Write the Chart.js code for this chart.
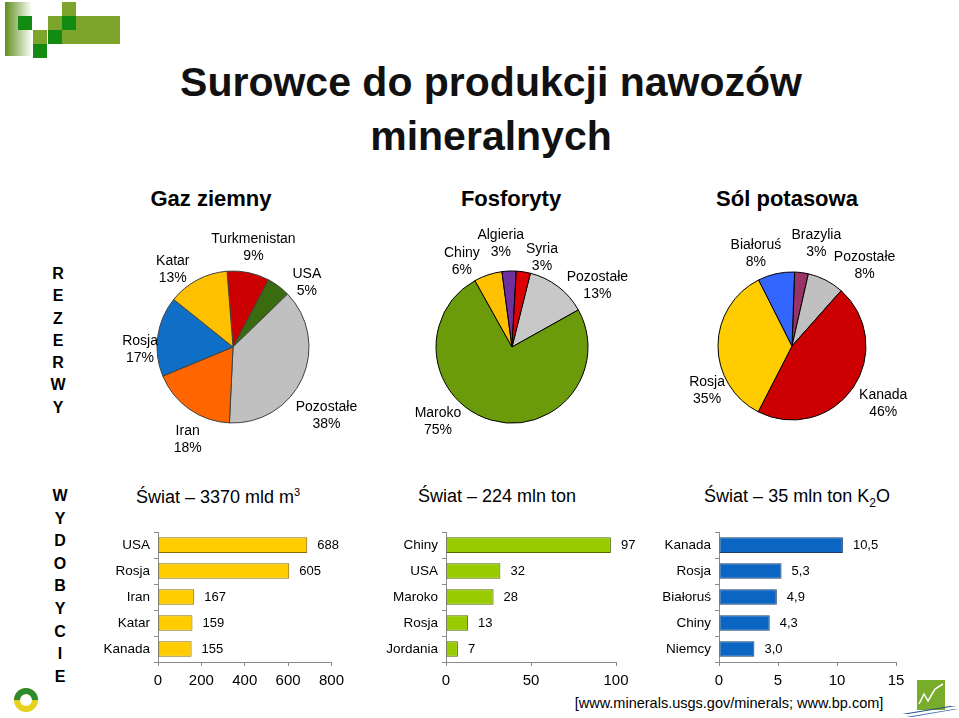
<!DOCTYPE html>
<html>
<head>
<meta charset="utf-8">
<script src="https://cdn.jsdelivr.net/npm/chart.js@4.4.0/dist/chart.umd.min.js"></script>
<style>
    body { margin: 0; background: #fff; }
    #page { position: relative; width: 959px; height: 718px; overflow: hidden; background: #fff;
            font-family: "Liberation Sans", Arial, sans-serif; color: #000; }
    .t { position: absolute; white-space: nowrap; transform: translate(-50%, -50%); line-height: 1; }
    .title { font-size: 41px; font-weight: bold; color: #111; }
    .head { font-size: 22px; font-weight: bold; }
    .sub { font-size: 18px; }
    .side { position: absolute; width: 30px; text-align: center; font-size: 16px; font-weight: bold; }
    canvas { position: absolute; }
    .sq { position: absolute; width: 14px; height: 14px; }
    .ol { background: #7da42b; }
    .dg { background: #138b13; }
</style>
</head>
<body>
<div id="page">

    <!-- decoration top-left -->
    <div style="position:absolute;left:5px;top:2px;width:27px;height:54px;background:linear-gradient(to right,#5e8f1e,#ffffff);"></div>
    <div class="sq ol" style="left:62px;top:2px;"></div>
    <div class="sq dg" style="left:18px;top:16px;"></div>
    <div class="sq ol" style="left:48px;top:16px;"></div>
    <div class="sq dg" style="left:62px;top:16px;"></div>
    <div class="sq ol" style="left:76px;top:16px;width:44px;"></div>
    <div class="sq ol" style="left:33px;top:30px;"></div>
    <div class="sq dg" style="left:48px;top:30px;"></div>
    <div class="sq ol" style="left:62px;top:30px;width:58px;"></div>
    <div class="sq dg" style="left:33px;top:44px;"></div>

    <div class="t title" style="left:491px;top:82px;">Surowce do produkcji nawozów</div>
    <div class="t title" style="left:491px;top:136px;">mineralnych</div>

    <div class="t head" style="left:211px;top:199px;">Gaz ziemny</div>
    <div class="t head" style="left:511px;top:199px;">Fosforyty</div>
    <div class="t head" style="left:787px;top:199px;">Sól potasowa</div>

    <div class="side" style="left:43px;top:263px;line-height:22.3px;">R<br>E<br>Z<br>E<br>R<br>W<br>Y</div>
    <div class="side" style="left:45px;top:485px;line-height:22.6px;">W<br>Y<br>D<br>O<br>B<br>Y<br>C<br>I<br>E</div>

    <div class="t sub" style="left:218px;top:496px;">Świat – 3370 mld m<sup style="font-size:11px;">3</sup></div>
    <div class="t sub" style="left:497px;top:496px;">Świat – 224 mln ton</div>
    <div class="t sub" style="left:797px;top:498px;">Świat – 35 mln ton K<sub style="font-size:12px;">2</sub>O</div>

    <div class="t" style="left:729px;top:703px;font-size:14.5px;">[www.minerals.usgs.gov/minerals; www.bp.com]</div>

    <canvas id="gasPie" width="300" height="260" style="left:83px;top:217px;"></canvas>
    <canvas id="phosPie" width="300" height="260" style="left:362px;top:217px;"></canvas>
    <canvas id="potPie" width="300" height="260" style="left:642px;top:216px;"></canvas>

    <canvas id="gasBar" width="252" height="170" style="left:98px;top:520px;"></canvas>
    <canvas id="phosBar" width="264" height="170" style="left:376px;top:520px;"></canvas>
    <canvas id="potBar" width="263" height="170" style="left:649px;top:520px;"></canvas>

    <!-- logos -->
    <svg style="position:absolute;left:0;top:680px;" width="60" height="38">
        <circle cx="26" cy="20" r="9" fill="none" stroke="#e6d21c" stroke-width="6"/>
        <path d="M17 20 A9 9 0 0 1 35 20" fill="none" stroke="#2e8b2e" stroke-width="6"/>
    </svg>
    <svg style="position:absolute;left:900px;top:676px;" width="59" height="42">
        <rect x="17" y="4" width="28" height="30" fill="#78ad2b"/>
        <polyline points="19,28 24,18 28,25 35,13 43,8" fill="none" stroke="#fff" stroke-width="1.5"/>
        <polygon points="2,38 50,30 56,30 8,38" fill="#1f4e8c"/>
        <polygon points="6,41 54,33 58,33 12,41" fill="#3a6db5"/>
    </svg>
</div>

<script>
// udziały w rezerwach [%]
const gasShareLabels = ["Turkmenistan", "USA", "Pozostałe", "Iran", "Rosja", "Katar"];
const gasShares = [9, 5, 38, 18, 17, 13];
const phosShareLabels = ["Pozostałe", "Maroko", "Chiny", "Algieria", "Syria"];
const phosShares = [13, 75, 6, 3, 3];
const potShareLabels = ["Brazylia", "Pozostałe", "Kanada", "Rosja", "Białoruś"];
const potShares = [3, 8, 46, 35, 8];

// wydobycie
const gasCountries = ["USA", "Rosja", "Iran", "Katar", "Kanada"];
const gasProd = [688, 605, 167, 159, 155];
const phosCountries = ["Chiny", "USA", "Maroko", "Rosja", "Jordania"];
const phosProd = [97, 32, 28, 13, 7];
const potCountries = ["Kanada", "Rosja", "Białoruś", "Chiny", "Niemcy"];
const potProd = [10.5, 5.3, 4.9, 4.3, 3.0];

// osie
const gasTicks = [0, 200, 400, 600, 800];
const phosTicks = [0, 50, 100];
const potTicks = [0, 5, 10, 15];

const FONT = '"Liberation Sans", Arial, sans-serif';
Chart.defaults.font.family = FONT;
Chart.defaults.color = "#000";

// pie labels: name + percent, placed around the pie
const pieLabels = (shift, dist) => ({
    id: "pieLabels",
    afterDatasetsDraw: (chart) => {
        const ctx = chart.ctx;
        const ds = chart.data.datasets[0];
        ctx.save();
        ctx.font = "14px " + FONT;
        ctx.fillStyle = "#000";
        ctx.textAlign = "center";
        ctx.textBaseline = "middle";
        chart.getDatasetMeta(0).data.forEach((arc, i) => {
            const a = (arc.startAngle + arc.endAngle) / 2 + shift[i] * Math.PI / 180;
            const px = arc.x + Math.cos(a) * dist[i];
            const py = arc.y + Math.sin(a) * dist[i];
            ctx.fillText(chart.data.labels[i], px, py - 8.5);
            ctx.fillText(ds.data[i] + "%", px, py + 8.5);
        });
        ctx.restore();
    }
});

function makePie(id, labels, values, colors, border, rotation, radius, shift, dist) {
    new Chart(document.getElementById(id), {
        type: "pie",
        data: {
            labels: labels,
            datasets: [{
                data: values,
                backgroundColor: colors,
                borderColor: border,
                borderWidth: 1
            }]
        },
        options: {
            responsive: false,
            animation: false,
            rotation: rotation,
            radius: radius,
            plugins: {
                legend: { display: false },
                tooltip: { enabled: false }
            }
        },
        plugins: [pieLabels(shift, dist)]
    });
}

makePie("gasPie", gasShareLabels, gasShares,
    ["#cc0000", "#3a6b0e", "#c0c0c0", "#ff6600", "#0f6fc6", "#ffc000"],
    "#404040", -4.5, 76,
    [0, 12, 12, -9, -10, -10], [101, 98, 116, 103, 93, 98]);

makePie("phosPie", phosShareLabels, phosShares,
    ["#c8c8c8", "#6b9b0a", "#ffc000", "#7030a0", "#dd0000"],
    "#000", 14, 76,
    [17, 29, -12, -4, 10], [105, 105, 99, 104, 94]);

makePie("potPie", potShareLabels, potShares,
    ["#993366", "#c0c0c0", "#cc0000", "#ffcc00", "#3366ff"],
    "#000", 2, 74,
    [6, 15, -2, -28, -9], [105, 108, 108, 96, 99]);

// value next to each bar
const valueLabels = (fmt) => ({
    id: "valueLabels",
    afterDatasetsDraw: (chart) => {
        const ctx = chart.ctx;
        const ds = chart.data.datasets[0];
        ctx.save();
        ctx.font = "13px " + FONT;
        ctx.fillStyle = "#000";
        ctx.textAlign = "left";
        ctx.textBaseline = "middle";
        chart.getDatasetMeta(0).data.forEach((bar, i) => {
            ctx.fillText(fmt(ds.data[i]), bar.x + 10, bar.y);
        });
        ctx.restore();
    }
});

function makeBars(id, cats, values, ticks, fill, border, fmt, yWidth, padRight) {
    new Chart(document.getElementById(id), {
        type: "bar",
        data: {
            labels: cats,
            datasets: [{
                data: values,
                backgroundColor: fill,
                borderColor: border,
                borderWidth: 1,
                borderSkipped: false,
                barPercentage: 0.6,
                categoryPercentage: 1
            }]
        },
        options: {
            indexAxis: "y",
            responsive: false,
            animation: false,
            layout: { padding: { top: 5, right: padRight, bottom: 0, left: 0 } },
            plugins: {
                legend: { display: false },
                tooltip: { enabled: false }
            },
            scales: {
                x: {
                    min: ticks[0],
                    max: ticks[ticks.length - 1],
                    afterBuildTicks: (s) => { s.ticks = ticks.map(v => ({ value: v })); },
                    ticks: { color: "#000", font: { size: 15 }, padding: 6, maxRotation: 0 },
                    grid: { drawOnChartArea: false, drawTicks: true, tickLength: 4, color: "#8a8a8a" },
                    border: { color: "#8a8a8a" },
                    afterFit: (s) => { s.height = 28; }
                },
                y: {
                    ticks: { color: "#000", font: { size: 13.5 }, padding: 4 },
                    grid: { drawOnChartArea: false, drawTicks: true, tickLength: 4, color: "#8a8a8a" },
                    border: { color: "#8a8a8a" },
                    afterFit: (s) => { s.width = yWidth; }
                }
            }
        },
        plugins: [valueLabels(fmt)]
    });
}

makeBars("gasBar", gasCountries, gasProd, gasTicks, "#ffcc00", "#8c6d00",
    v => String(v), 60, 17);
makeBars("phosBar", phosCountries, phosProd, phosTicks, "#99cc00", "#4f6b00",
    v => String(v), 70, 24);
makeBars("potBar", potCountries, potProd, potTicks, "#0a66c2", "#1f3d66",
    v => v.toFixed(1).replace(".", ","), 70, 16);
</script>
</body>
</html>
